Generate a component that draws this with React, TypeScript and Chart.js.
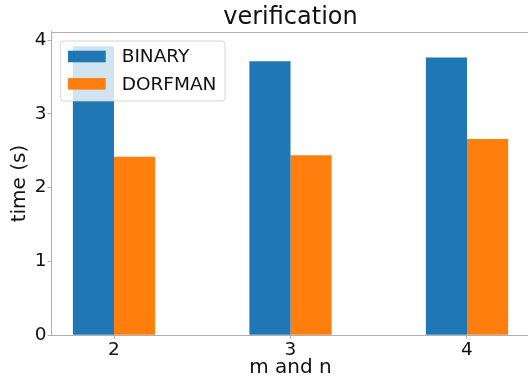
import React, { useEffect, useRef } from 'react';
import { Chart, registerables } from 'chart.js';

Chart.register(...registerables);

const FONT = "'DejaVu Sans', 'Liberation Sans', sans-serif";

const categories = [2, 3, 4];
const binaryTimes = [3.916, 3.713, 3.762];
const dorfmanTimes = [2.42, 2.439, 2.66];
const yTickValues = [0, 1, 2, 3, 4];
const seriesLabels = ['BINARY', 'DORFMAN'];
const seriesColors = ['#1f77b4', '#ff7f0e'];

const X_MIN = 1.643;
const X_MAX = 4.357;
const Y_MAX = 4.113;
const SPINE = '#b0b0b0';
const TEXT = '#111111';

const frameAndLegend = {
  id: 'frameAndLegend',
  afterDatasetsDraw(chart: any) {
    const { ctx, chartArea: a } = chart;
    ctx.save();
    ctx.strokeStyle = SPINE;
    ctx.lineWidth = 1;
    ctx.beginPath();
    ctx.moveTo(a.left, Math.round(a.top) + 0.5);
    ctx.lineTo(a.right, Math.round(a.top) + 0.5);
    ctx.stroke();

    const lx = a.left + 9.7;
    const ly = a.top + 9.3;
    const lw = 164.3;
    const lh = 60;
    ctx.beginPath();
    if (ctx.roundRect) ctx.roundRect(lx, ly, lw, lh, 3);
    else ctx.rect(lx, ly, lw, lh);
    ctx.fillStyle = 'rgba(255,255,255,0.8)';
    ctx.fill();
    ctx.strokeStyle = 'rgba(204,204,204,0.8)';
    ctx.stroke();

    chart.data.datasets.forEach((ds: any, i: number) => {
      const cy = ly + 15.5 + i * 27.35;
      ctx.fillStyle = ds.backgroundColor;
      ctx.fillRect(lx + 7.3, cy - 5.8, 37.7, 11.6);
      ctx.fillStyle = TEXT;
      ctx.font = `18.5px ${FONT}`;
      ctx.textBaseline = 'middle';
      ctx.textAlign = 'left';
      ctx.fillText(ds.label, lx + 61, cy + 1);
    });
    ctx.restore();
  },
};

export default function App() {
  const canvasRef = useRef<HTMLCanvasElement | null>(null);

  useEffect(() => {
    const canvas = canvasRef.current;
    if (!canvas) return;
    const chart = new Chart(canvas, {
      type: 'bar',
      data: {
        datasets: [
          {
            label: seriesLabels[0],
            data: categories.map((c, i) => ({ x: c, y: binaryTimes[i] })),
            backgroundColor: seriesColors[0],
            borderWidth: 0,
          },
          {
            label: seriesLabels[1],
            data: categories.map((c, i) => ({ x: c, y: dorfmanTimes[i] })),
            backgroundColor: seriesColors[1],
            borderWidth: 0,
          },
        ],
      },
      options: {
        responsive: false,
        animation: false,
        devicePixelRatio: 1,
        categoryPercentage: 0.466,
        barPercentage: 1,
        layout: { padding: 0 },
        plugins: {
          legend: { display: false },
          tooltip: { enabled: false },
          title: {
            display: true,
            text: 'verification',
            fullSize: false,
            color: TEXT,
            font: { family: FONT, size: 24, weight: 'normal' },
            padding: { top: 2.9, bottom: 0 },
          },
        },
        scales: {
          x: {
            type: 'linear',
            min: X_MIN,
            max: X_MAX,
            offset: false,
            afterBuildTicks: (scale: any) => {
              scale.ticks = categories.map((v) => ({ value: v }));
            },
            afterFit: (scale: any) => {
              scale.height = 44.7;
            },
            ticks: {
              color: TEXT,
              font: { family: FONT, size: 18.5 },
              padding: 0,
              maxRotation: 0,
              autoSkip: false,
              callback: (v: any) => String(v),
            },
            grid: {
              offset: false,
              drawOnChartArea: false,
              drawTicks: true,
              tickLength: 3.5,
              tickColor: SPINE,
            },
            border: { color: SPINE, width: 1 },
            title: {
              display: true,
              text: 'm and n',
              color: TEXT,
              font: { family: FONT, size: 20 },
              padding: { top: 0, bottom: 0 },
            },
          },
          y: {
            type: 'linear',
            min: 0,
            max: Y_MAX,
            afterBuildTicks: (scale: any) => {
              scale.ticks = yTickValues.map((v) => ({ value: v }));
            },
            afterFit: (scale: any) => {
              scale.width = 51;
            },
            ticks: {
              color: TEXT,
              font: { family: FONT, size: 18.5 },
              padding: 1,
              callback: (v: any) => String(v),
            },
            grid: {
              drawOnChartArea: false,
              drawTicks: true,
              tickLength: 3.5,
              tickColor: SPINE,
            },
            border: { color: SPINE, width: 1 },
            title: {
              display: true,
              text: 'time (s)',
              color: TEXT,
              font: { family: FONT, size: 20 },
              padding: { top: 8, bottom: 0 },
            },
          },
        },
      },
      plugins: [frameAndLegend],
    } as any);
    return () => chart.destroy();
  }, []);

  return (
    <div style={{ position: 'fixed', left: 0, top: 0, width: 528, height: 380, overflow: 'hidden', background: '#fff' }}>
      <canvas ref={canvasRef} width={530} height={380} style={{ width: 530, height: 380, display: 'block' }} />
    </div>
  );
}
